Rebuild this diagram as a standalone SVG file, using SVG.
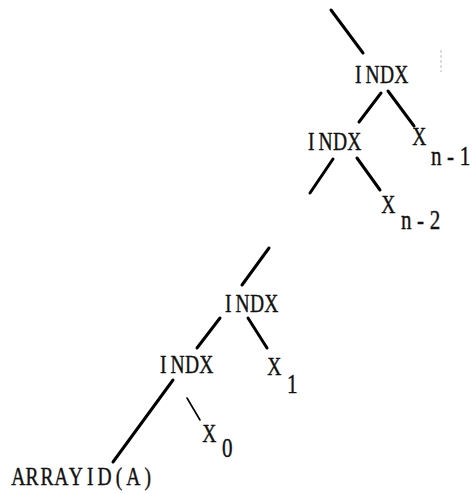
<svg xmlns="http://www.w3.org/2000/svg" width="473" height="494" viewBox="0 0 473 494">
<style>
.t{font-family:"Liberation Serif","Times New Roman",serif;font-size:25px;fill:#111;stroke:#111;stroke-width:0.4;}
.s{font-size:27px;}
.e{stroke:#000;stroke-width:3;stroke-linecap:round;fill:none;}
.thin{stroke-width:1.6;}
.faint{stroke:#bbb;stroke-width:1;stroke-dasharray:3 2;}
</style>
<rect width="473" height="494" fill="#fff"/>
<g id="connectors">
<line class="e" x1="331" y1="10" x2="363" y2="53"/>
<line class="e" x1="381" y1="93" x2="359" y2="122"/>
<line class="e" x1="388" y1="91" x2="414" y2="126"/>
<line class="e" x1="333" y1="159" x2="310" y2="193"/>
<line class="e" x1="357" y1="158" x2="380" y2="190"/>
<line class="e" x1="269" y1="248" x2="242" y2="285"/>
<line class="e" x1="220" y1="318" x2="197" y2="348"/>
<line class="e" x1="248" y1="318" x2="267" y2="348"/>
<line class="e" x1="173" y1="380" x2="113" y2="462"/>
<line class="e thin" x1="187" y1="398" x2="200" y2="420"/>
<line class="faint" x1="441" y1="50" x2="441" y2="72"/>
</g>
<g id="indx1"><text class="t" transform="translate(351,83) scale(0.78,1.05)" x="5.07 18.66 37.12 55.58">INDX</text></g>
<g id="indx2"><text class="t" transform="translate(304,150) scale(0.78,1.05)" x="5.07 18.66 37.12 55.58">INDX</text></g>
<g id="xn1"><text class="t" transform="translate(412,145) scale(0.78,1.05)" x="0.2">X</text><text class="t s" transform="translate(429,165) scale(0.78,1.05)" x="2.48 23.2 39.4">n-1</text></g>
<g id="xn2"><text class="t" transform="translate(381,213) scale(0.78,1.05)" x="0.2">X</text><text class="t s" transform="translate(399,229) scale(0.78,1.05)" x="2.48 23.2 39.4">n-2</text></g>
<g id="indx3"><text class="t" transform="translate(221,312) scale(0.78,1.05)" x="5.07 18.66 37.12 55.58">INDX</text></g>
<g id="indx4"><text class="t" transform="translate(156,373) scale(0.78,1.05)" x="5.07 18.66 37.12 55.58">INDX</text></g>
<g id="x1"><text class="t" transform="translate(267,375) scale(0.78,1.05)" x="0.2">X</text><text class="t s" transform="translate(285,393) scale(0.78,1.05)" x="2.48">1</text></g>
<g id="x0"><text class="t" transform="translate(202,442) scale(0.78,1.05)" x="0.2">X</text><text class="t s" transform="translate(220,457) scale(0.78,1.05)" x="2.48">0</text></g>
<g id="arrayid"><text class="t" transform="translate(11,485) scale(0.78,1.05)" x="0.2 18.66 37.81 55.58 74.04 97.37 110.96 134.29 147.88 171.21">ARRAYID(A)</text></g>
</svg>
